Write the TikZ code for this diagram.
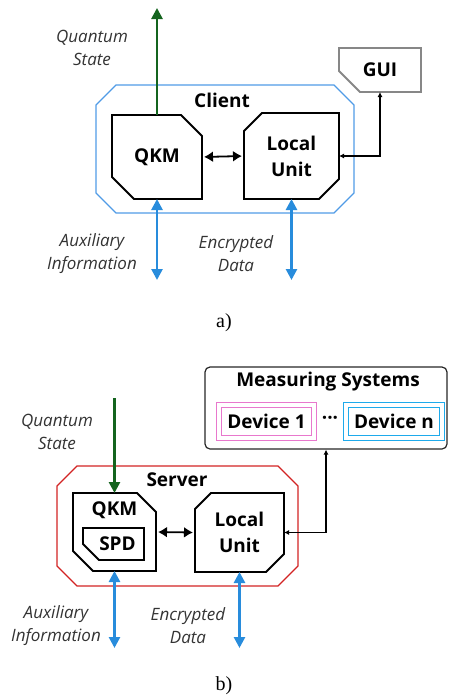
\documentclass[tikz,border=0pt]{standalone}
\usepackage{fontspec}
\setmainfont{Open Sans}
\newfontfamily\capfont{Liberation Serif}
\usetikzlibrary{positioning}
\usetikzlibrary{arrows.meta}

\definecolor{qgreen}{RGB}{20,100,30}
\definecolor{chanblue}{RGB}{40,140,220}
\definecolor{clientblue}{RGB}{80,155,230}
\definecolor{serverred}{RGB}{210,35,35}
\definecolor{devpink}{RGB}{232,120,205}
\definecolor{devcyan}{RGB}{30,170,235}
\definecolor{guigray}{RGB}{135,135,135}

% node name, then the cut at nw, ne, se, sw
\newcommand{\cutbox}[6][]{%
  \draw[#1] ([xshift=#3]#2.north west) -- ([xshift=-#4]#2.north east) -- ([yshift=-#4]#2.north east)
    -- ([yshift=#5]#2.south east) -- ([xshift=-#5]#2.south east) -- ([xshift=#6]#2.south west)
    -- ([yshift=#6]#2.south west) -- ([yshift=-#3]#2.north west) -- cycle;}

\tikzset{
  boldtxt/.style={font=\fontsize{19}{26}\selectfont\bfseries, align=center},
  itxt/.style={font=\fontsize{17}{23}\selectfont\itshape, align=center, text=black!80},
  box/.style={inner sep=0pt, outer sep=0pt, boldtxt},
  unitline/.style={line width=1.8pt},
  hullline/.style={line width=1.1pt},
  devbox/.style={draw, line width=0.8pt, double=white, double distance=4pt, inner sep=0pt, minimum height=33pt, boldtxt},
  quantum/.style={draw=qgreen, line width=2.6pt},
  channel/.style={draw=chanblue, line width=2.6pt, {Triangle[length=11pt,width=11pt]}-{Triangle[length=11pt,width=11pt]}},
  link/.style={line width=1.8pt, {Latex[length=9pt,width=11pt]}-{Latex[length=9pt,width=11pt]}},
  thinlink/.style={line width=1.3pt, {Latex[length=5pt,width=5pt]}-{Latex[length=5pt,width=5pt]}}
}

\begin{document}
\begin{tikzpicture}[x=1pt,y=-1pt]
\useasboundingbox (0,0) rectangle (448,699);

% a) client
\node[box, minimum width=258pt, minimum height=128pt] (client) at (225,149) {};
\cutbox[hullline, draw=clientblue]{client}{20pt}{20pt}{20pt}{20pt}
\node[boldtxt] at (222,100) {Client};
\node[box, minimum width=90pt, minimum height=84pt] (qkmA) at (157,157) {QKM};
\cutbox[unitline]{qkmA}{0pt}{21pt}{0pt}{22pt}
\node[box, minimum width=95pt, minimum height=86pt] (localA) at (291.5,156) {Local\\Unit};
\cutbox[unitline]{localA}{18pt}{0pt}{20pt}{0pt}
\node[box, minimum width=82pt, minimum height=44pt] (gui) at (380,70) {GUI};
\cutbox[unitline, draw=guigray]{gui}{0pt}{0pt}{0pt}{21pt}

\coordinate (qsA) at (157,8);
\coordinate (auxA) at (157,280);
\coordinate (encA) at (291.5,280);
\draw[quantum, -{Triangle[length=11pt,width=11pt]}] (qkmA.north) -- (qsA);
\draw[link, shorten <=2pt, shorten >=2pt] (qkmA.east) -- (localA.west);
\draw[thinlink] (localA.east) -| (gui.south);
\draw[channel] (qkmA.south) -- (auxA);
\draw[channel] (localA.south) -- (encA);

\node[itxt] at (92,48) {Quantum\\State};
\node[itxt] at (92,254) {Auxiliary\\Information};
\node[itxt] at (236,254) {Encrypted\\Data};
\node[font=\capfont\fontsize{20}{24}\selectfont] at (224,323) {a)};

% b) server
\node[draw=black!85, line width=1.2pt, rounded corners=5pt, minimum width=242pt, minimum height=82pt, inner sep=0pt] (meas) at (326,408) {};
\node[boldtxt] at (328,382) {Measuring Systems};
\node[devbox, draw=devpink, minimum width=95pt] (dev1) at (266.5,421.5) {Device 1};
\node[devbox, draw=devcyan, minimum width=96pt] (devn) at (394,421.5) {Device n};
\node[boldtxt] (dots) at (330,420) {···};

\node[box, minimum width=241pt, minimum height=120pt] (server) at (177.5,526) {};
\cutbox[hullline, draw=serverred]{server}{20pt}{20pt}{20pt}{20pt}
\node[boldtxt] at (177,480) {Server};
\node[box, minimum width=83pt, minimum height=78pt] (qkmB) at (114.5,532) {};
\cutbox[unitline]{qkmB}{0pt}{19pt}{0pt}{20pt}
\node[boldtxt] at ([yshift=-17pt]qkmB.north) {QKM};
\node[box, minimum width=61pt, minimum height=32pt] (spd) at (113.5,544) {\hspace{8pt}SPD};
\cutbox[unitline]{spd}{0pt}{0pt}{0pt}{16pt}
\node[box, minimum width=89pt, minimum height=79pt] (localB) at (239.5,532.5) {Local\\Unit};
\cutbox[unitline]{localB}{16pt}{0pt}{18pt}{0pt}

\coordinate (qsB) at (114.5,398);
\coordinate (auxB) at (114.5,648);
\coordinate (encB) at (239.5,648);
\draw[quantum, -{Triangle[length=11pt,width=11pt]}] (qsB) -- (qkmB.north);
\draw[link, shorten <=2pt, shorten >=2pt] (qkmB.east) -- (localB.west);
\draw[thinlink] (localB.east) -| (meas.south);
\draw[channel] (qkmB.south) -- (auxB);
\draw[channel] (localB.south) -- (encB);

\node[itxt] at (57,432) {Quantum\\State};
\node[itxt] at (56,626) {Auxiliary\\Information};
\node[itxt] at (188,626) {Encrypted\\Data};
\node[font=\capfont\fontsize{20}{24}\selectfont] at (224,686) {b)};
\end{tikzpicture}
\end{document}
